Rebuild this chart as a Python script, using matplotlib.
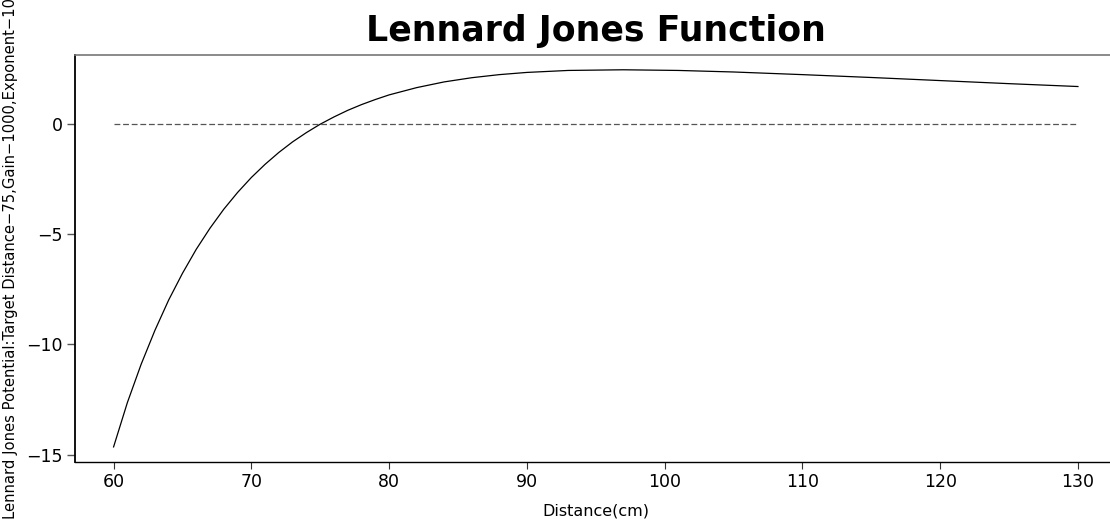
import matplotlib
matplotlib.use("Agg")
import matplotlib.pyplot as plt
import numpy as np

# potential read along the distance axis (denser where the curve is steep)
distance = [60, 61, 62, 63, 64, 65, 66, 67, 68, 69, 70, 71, 72, 73, 74, 75,
            76, 77, 78, 79, 80, 82, 84, 86, 88, 90, 93, 97, 101, 105, 110,
            115, 120, 125, 130]
potential = [-14.65, -12.64, -10.90, -9.36, -7.98, -6.77, -5.68, -4.72, -3.86,
             -3.10, -2.42, -1.82, -1.28, -0.80, -0.38, 0.0, 0.33, 0.63, 0.89,
             1.12, 1.33, 1.66, 1.92, 2.11, 2.25, 2.35, 2.44, 2.47, 2.44, 2.37,
             2.25, 2.12, 1.98, 1.84, 1.71]
xticks = [60, 70, 80, 90, 100, 110, 120, 130]
yticks = [0, -5, -10, -15]

plt.rcParams["font.family"] = ["DejaVu Sans"]
plt.rcParams["lines.scale_dashes"] = False

fig = plt.figure(figsize=(11.1, 5.19), dpi=100)
ax = fig.add_axes([0.06757, 0.10983, 0.93829, 0.78478])

x = np.array(distance)
y = np.array(potential)
ax.plot(x, y, color="black", lw=0.9)
ax.plot([x[0], x[-1]], [0, 0], color="#555555", lw=0.9, dashes=(4.2, 2.0))

# 4% padding on both axes
xr = x.max() - x.min()
yr = y.max() - y.min()
ax.set_xlim(x.min() - 0.04 * xr, x.max() + 0.04 * xr)
ax.set_ylim(y.min() - 0.04 * yr, y.max() + 0.04 * yr)

ax.set_xticks(xticks)
ax.set_yticks(yticks)
ax.set_xticklabels([str(t) for t in xticks])
ax.set_yticklabels([str(t).replace("-", "\u2212") for t in yticks])
ax.tick_params(axis="x", direction="out", length=5, width=0.8, color="#333333",
               labelsize=12.5, pad=3)
ax.tick_params(axis="y", direction="out", length=6, width=1.0, color="#555555",
               labelsize=12.5, pad=3)

ax.spines["left"].set_color("black")
ax.spines["left"].set_linewidth(1.3)
ax.spines["bottom"].set_color("black")
ax.spines["bottom"].set_linewidth(1.0)
ax.spines["top"].set_color("#777777")
ax.spines["top"].set_linewidth(1.2)
ax.spines["right"].set_visible(False)

ax.set_title("Lennard Jones Function", fontsize=25, fontweight="bold", pad=10)
ax.set_xlabel("Distance(cm)", fontsize=11.5, labelpad=9)
ax.set_ylabel("Lennard Jones Potential:Target Distance\u221275,Gain\u22121000,Exponent\u221210",
              fontsize=10.6)
ax.yaxis.set_label_coords(-0.055, 0.5)

fig.savefig("out.png", dpi=100)
